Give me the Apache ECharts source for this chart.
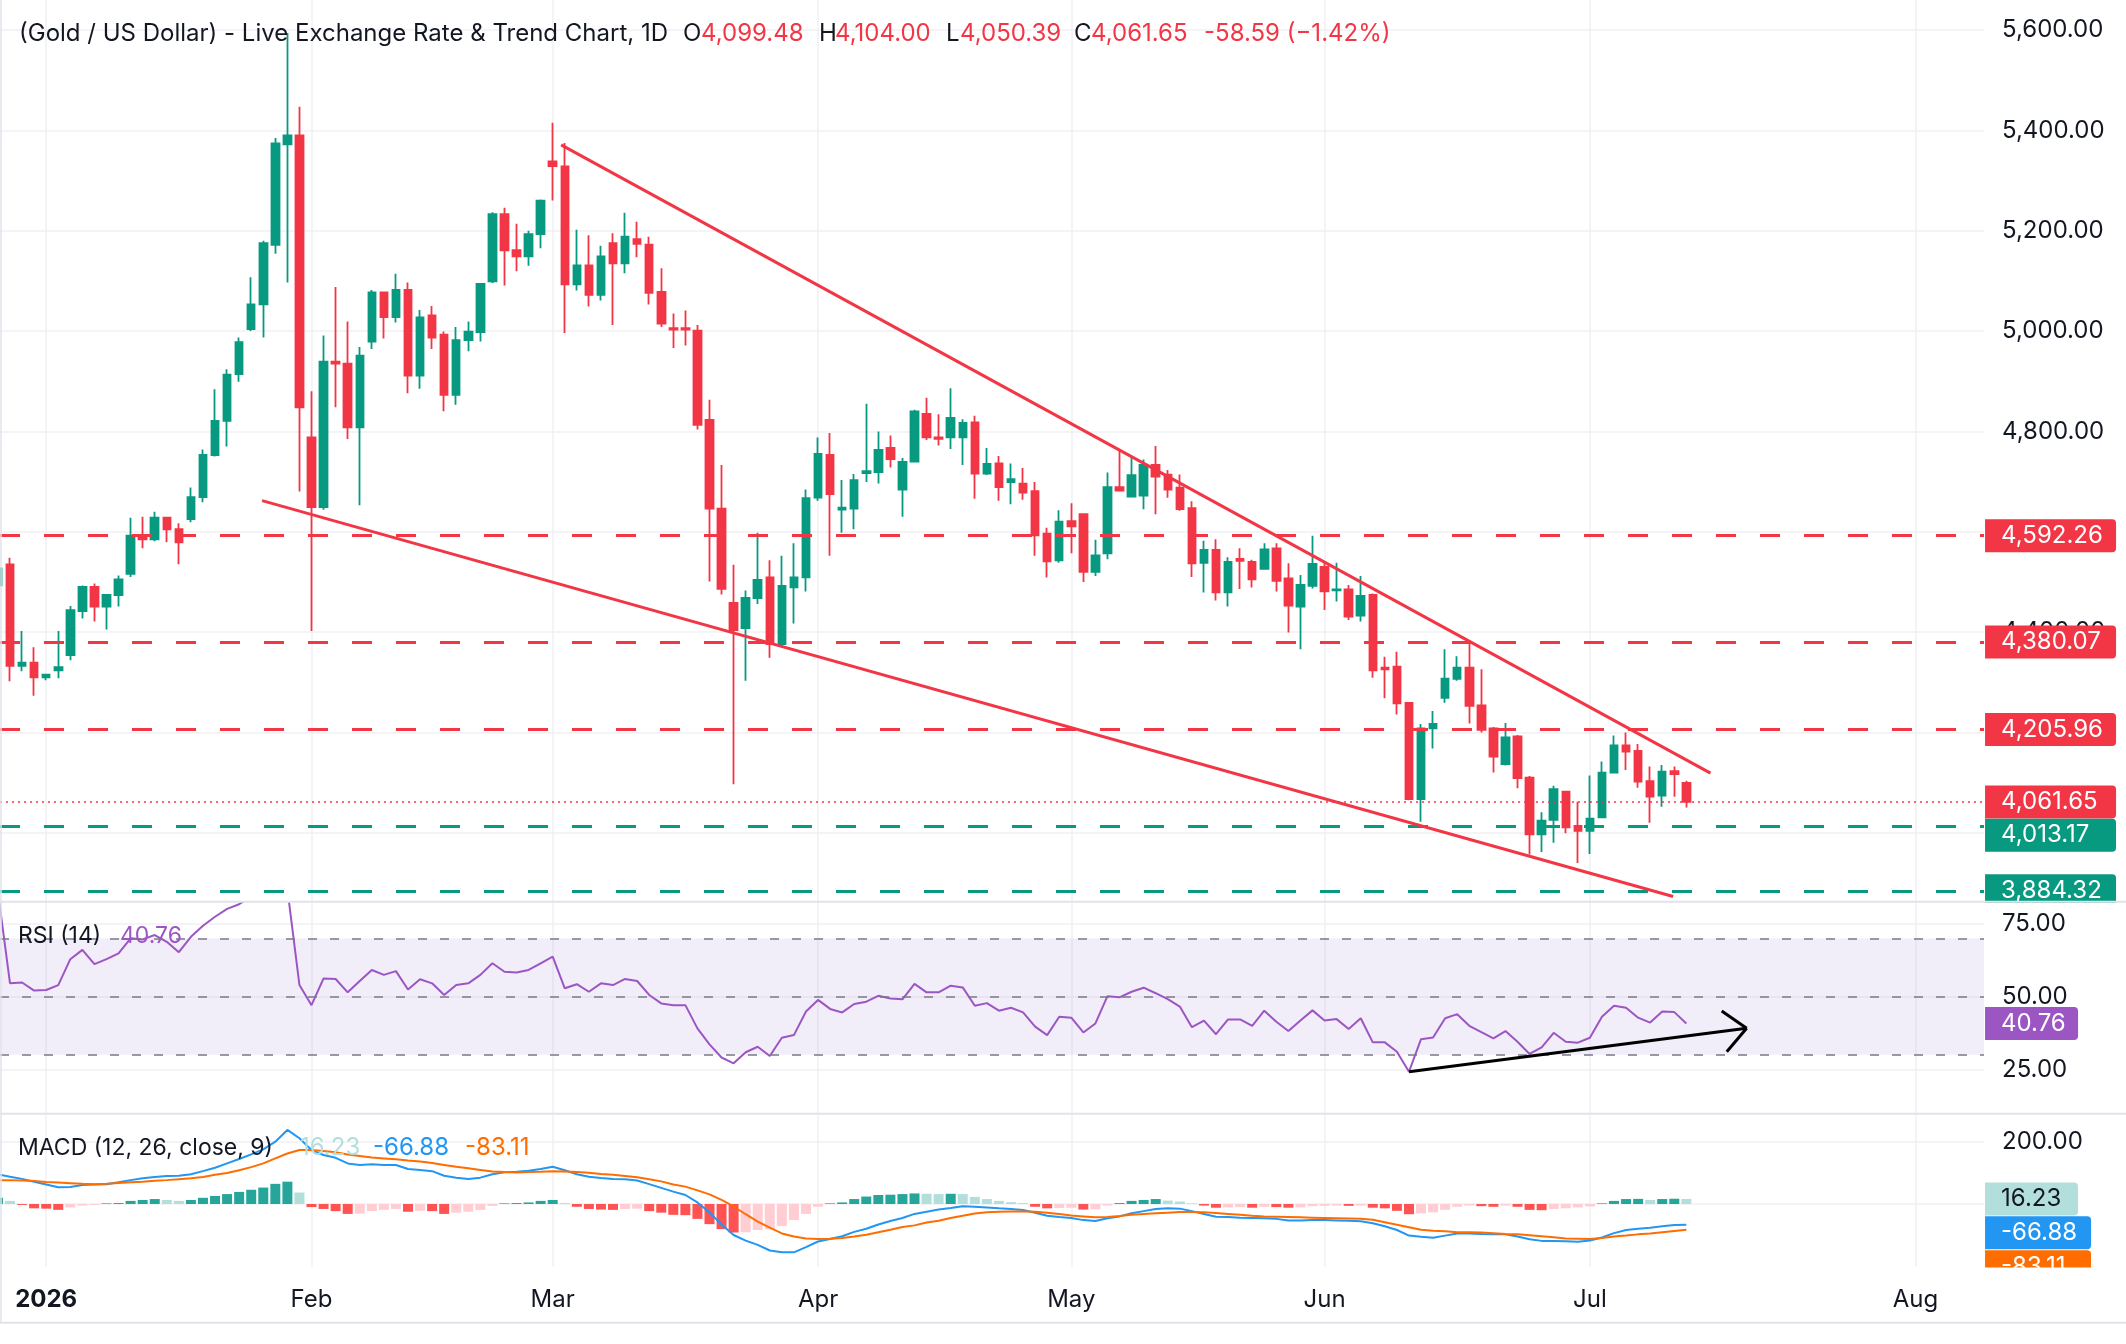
<!DOCTYPE html>
<html><head><meta charset="utf-8">
<script src="https://cdn.jsdelivr.net/npm/echarts@6/dist/echarts.min.js"></script>
<style>html,body{margin:0;padding:0;background:#fff}#c{width:2126px;height:1344px}</style>
</head><body><div id="c"></div>
<script>
// ---------- DATA (first bar = Dec 26 2025 at bar index -1, then daily bars) ----------
const firstBarIndex = -1;
const opens = [4493,4535,4333,4339,4310,4324,4354,4442,4490,4451,4474,4516,4592,4585,4628,4605,4625,4669,4753,4821,4914,
5004,5053,5172,5372,5390,4788,4649,4939,4935,4808,4979,5077,5028,5082,4911,5031,4993,4873,4982,4998,
5099,5233,5161,5149,5193,5338,5328,5093,5131,5072,5175,5135,5183,5172,5078,5006,5006,5001,4823,4646,
4458,4408,4468,4509,4376,4489,4509,4668,4753,4644,4646,4717,4719,4767,4684,4740,4835,4788,4788,4788,
4818,4716,4736,4699,4696,4681,4596,4543,4621,4635,4520,4557,4689,4670,4672,4733,4714,4688,4647,4538,
4564,4479,4546,4540,4526,4567,4507,4451,4492,4530,4483,4485,4433,4474,4329,4331,4259,4067,4208,4269,
4307,4329,4254,4208,4137,4192,4110,3997,4026,4082,4014,4004,4031,4120,4174,4163,4103,4074,4123,4099.48];
const highs = [4535,4548,4402,4370,4316,4402,4452,4493,4497,4476,4513,4628,4630,4640,4630,4617,4688,4764,4884,4924,4987,
5107,5180,5385,5594,5447,4880,4991,5088,5019,4968,5082,5079,5114,5097,5042,5050,4999,5008,5019,5094,
5237,5246,5214,5200,5262,5415,5375,5202,5191,5170,5195,5236,5218,5188,5125,5035,5041,5012,4863,4733,
4534,4483,4598,4543,4552,4577,4684,4788,4797,4703,4715,4855,4800,4792,4747,4843,4867,4834,4886,4824,
4831,4767,4751,4736,4727,4699,4608,4643,4657,4635,4584,4718,4763,4750,4744,4771,4723,4714,4661,4582,
4585,4549,4567,4544,4577,4577,4537,4514,4592,4540,4538,4494,4512,4477,4351,4361,4259,4217,4243,4366,
4352,4378,4326,4211,4219,4195,4113,4041,4094,4083,4062,4114,4142,4194,4200,4177,4132,4135,4132,4104.00];
const lows = [4490,4302,4322,4273,4304,4308,4344,4427,4421,4405,4451,4510,4567,4581,4579,4535,4619,4659,4750,4770,4899,
5000,4987,5154,5097,4680,4402,4644,4848,4785,4653,4964,4985,5017,4876,4885,4964,4840,4853,4960,4979,
5096,5091,5119,5130,5165,5260,4996,5081,5049,5061,5012,5115,5147,5053,5008,4966,4971,4804,4501,4475,
4097,4303,4456,4349,4374,4417,4481,4662,4552,4598,4605,4699,4696,4728,4630,4740,4783,4772,4765,4733,
4666,4713,4662,4655,4664,4552,4509,4538,4557,4500,4512,4545,4682,4670,4645,4635,4668,4642,4510,4479,
4463,4451,4486,4489,4526,4481,4399,4366,4487,4444,4461,4424,4421,4309,4268,4236,4065,4022,4168,4259,
4303,4218,4200,4120,4134,4089,3957,3962,3980,3999,3940,3958,4029,4120,4125,4090,4020,4052,4072,4050.39];
const closes = [4527,4333,4339,4310,4315,4330,4444,4490,4451,4474,4505,4592,4585,4628,4605,4579,4669,4753,4821,4913,4978,
5053,5175,5374,5390,4848,4649,4939,4935,4808,4951,5077,5028,5082,4911,5027,4987,4873,4982,4999,5094,
5233,5161,5149,5193,5260,5329,5093,5131,5072,5149,5135,5188,5174,5076,5015,5003,5003,4813,4646,4486,
4404,4468,4504,4376,4492,4509,4667,4755,4675,4648,4703,4721,4763,4745,4739,4840,4788,4785,4827,4817,
4716,4735,4689,4705,4678,4593,4541,4620,4611,4520,4553,4689,4682,4713,4733,4710,4684,4645,4537,4564,
4479,4540,4542,4505,4565,4502,4453,4494,4536,4481,4485,4431,4472,4324,4326,4258,4067,4208,4217,4307,
4329,4253,4205,4152,4190,4109,3997,4024,4087,4011,4004,4028,4120,4174,4162,4102,4072,4122,4117,4061.65];
const rsi = [86,54.6,54.9,52.1,52.3,54.0,62.9,66.1,61.2,62.9,64.9,70.1,69.7,71.2,68.9,65.3,70.6,74.4,77.5,80.2,81.8,
84.5,86.5,89,87,54.0,47.1,56.3,56.1,51.5,55.4,59.2,57.5,58.8,52.5,56.0,54.6,50.6,54.0,54.6,57.5,
61.5,58.6,58.3,59.2,61.5,63.8,52.9,54.3,51.7,54.6,54.0,56.1,55.4,50.6,47.7,47.1,47.1,39.1,33.6,29.1,
27.1,30.9,32.8,29.6,35.9,36.8,44.9,48.9,45.8,44.6,47.5,48.3,50.3,49.4,49.1,54.4,51.5,51.5,53.8,53.2,
46.9,47.8,45.2,46.2,44.6,39.7,36.8,43.1,42.8,37.7,40.8,50.2,49.8,51.7,53.1,51.2,49.2,46.6,39.5,41.8,
37.1,42.2,42.2,40.0,45.2,41.4,38.2,41.8,45.3,41.8,42.3,38.9,42.6,34.3,34.3,31.1,24.2,35.4,36.0,42.6,
44.0,40.0,37.8,35.7,38.2,34.5,30.3,32.6,37.6,34.5,34.2,35.9,43.1,46.9,46.2,42.8,41.1,44.9,44.7,40.76];
const macd = [96,88,81,72,63,54,55,61,63,64,70,77,83,87,90,91,96,106,117,131,145,
160,176,201,239,212,174,158,149,131,126,128,126,126,113,110,106,91,85,81,85,
96,102,104,107,113,120,109,96,88,84,81,80,76,64,52,40,29,5,-27,-66,
-100,-118,-132,-150,-156,-156,-139,-121,-113,-104,-90,-80,-66,-55,-45,-32,-25,-18,-13,-7,
-9,-11,-14,-16,-19,-28,-38,-42,-45,-52,-55,-46,-40,-30,-23,-16,-14,-15,-23,-32,
-41,-42,-44,-45,-46,-48,-53,-53,-52,-52,-53,-54,-56,-62,-72,-84,-102,-106,-109,-102,
-95,-95,-97,-98,-98,-105,-114,-119,-119,-120,-122,-118,-108,-94,-84,-80,-77,-72,-68,-66.88];
const signal = [77,77,76,74,71,69,67,65,64,65,68,70,72,75,77,80,83,87,94,100,109,
119,131,147,163,174,174,171,167,160,155,150,147,144,140,137,132,126,120,115,110,
105,103,102,103,104,106,105,103,101,97,94,90,86,80,73,63,56,44,31,13,
-8,-33,-57,-76,-95,-105,-111,-113,-112,-110,-105,-99,-91,-83,-74,-69,-60,-54,-45,-38,
-31,-27,-25,-24,-24,-25,-28,-32,-37,-40,-43,-42,-39,-35,-32,-30,-28,-26,-26,-27,
-29,-32,-35,-38,-40,-41,-42,-43,-44,-45,-46,-47,-48,-51,-59,-67,-75,-83,-86,-88,
-91,-91,-92,-94,-97,-98,-101,-104,-107,-111,-112,-113,-110,-105,-102,-98,-95,-91,-87,-83.11];
const hist = [20,10,-3,-14,-15,-19,-11,-5,-3,2,3,10,13,16,13,10,13,20,26,32,39,
46,53,65,72,37,-10,-16,-23,-32,-31,-23,-19,-16,-25,-22,-23,-32,-28,-25,-19,
-6,2,3,5,10,13,3,-9,-16,-18,-19,-16,-15,-23,-28,-35,-36,-48,-65,-81,
-92,-91,-84,-82,-71,-52,-32,-9,2,5,16,24,29,30,32,34,33,32,33,32,
23,16,10,6,3,-9,-14,-13,-12,-18,-17,-5,3,10,13,16,11,8,2,-5,
-12,-11,-10,-12,-9,-10,-12,-11,-7,-6,-5,-6,-5,-12,-14,-22,-33,-30,-27,-19,
-9,-5,-7,-9,-5,-9,-19,-20,-16,-14,-11,-8,2,10,16,16.5,13,16,17,16.23];

const monthTicks = [3,25,45,67,88,109,131,158];
const monthLabels = ['2026','Feb','Mar','Apr','May','Jun','Jul','Aug'];
const priceTicks = [4000,4200,4400,4600,4800,5000,5200,5400,5600];
const rsiTicks = [25,50,75];
const rsiBands = [70,50,30];
const macdTicks = [0,200];
const macdLabelTicks = [200];
const resistLevels = [4592.26,4380.07,4205.96];
const supportLevels = [4013.17,3884.32];
const lastPrice = 4061.65;
const upperTrend = [[45.7,5371],[141.0,4119]];
const lowerTrend = [[20.9,4662],[137.9,3873]];
const rsiArrow = [[116,24.2],[144.0,39.13]];
const rsiArrowArm1 = [[141.93,45.08],[144.0,39.13]];
const rsiArrowArm2 = [[142.35,31.09],[144.0,39.13]];
const headerTitle = '(Gold / US Dollar) - Live Exchange Rate & Trend Chart, 1D';
const headerKeys = ['O','H','L','C'];
const headerVals = ['4,099.48','4,104.00','4,050.39','4,061.65'];
const headerChange = '-58.59 (\u22121.42%)';

// ---------- STYLE ----------
const F = 'Inter, "Noto Sans", Roboto, sans-serif';
const RED = '#f23645', GREEN = '#089981', TXT = '#131722', GRID = '#f0f1f4', SEP = '#e0e3eb';
const PURPLE = '#9c56c3', BLUE = '#2196f3', ORANGE = '#ff6d00';
const X_MIN = -0.83, X_MAX = 163.68;
const FS = 24;
const fmt = v => Number(v).toLocaleString('en-US',{minimumFractionDigits:2,maximumFractionDigits:2});
const last = a => a[a.length-1];
const xs = i => i + firstBarIndex;

function boxPoint(value, text, bg, fg, w, dy){
  return {coord:[X_MAX, value], symbol:'rect', symbolSize:0.1, itemStyle:{color:'rgba(0,0,0,0)'},
    label:{show:true, position:'right', distance:1, color:fg, backgroundColor:bg, fontFamily:F, fontSize:FS,
      lineHeight:23, padding:[5,10,5,16], width:w, borderRadius:[0,4,4,0], offset:[0,dy||0], formatter:text}};
}

// header rich text (fragment widths set to match spacing)
const hdrKeyW = [18,16,14,17], hdrValW = [118,111,114,113];
const hdrRich = {t:{fontFamily:F, fontSize:FS, color:TXT, fontWeight:'normal', lineHeight:28, width:664},
                 c:{fontFamily:F, fontSize:FS, color:RED, fontWeight:'normal', lineHeight:28}};
let hdrText = '{t|'+headerTitle+'}';
headerKeys.forEach((k,i)=>{
  hdrRich['k'+i] = {fontFamily:F, fontSize:FS, color:TXT, fontWeight:'normal', lineHeight:28, width:hdrKeyW[i]};
  hdrRich['v'+i] = {fontFamily:F, fontSize:FS, color:RED, fontWeight:'normal', lineHeight:28, width:hdrValW[i]};
  hdrText += '{k'+i+'|'+k+'}{v'+i+'|'+headerVals[i]+'}';
});
hdrText += '{c|'+headerChange+'}';

const chart = echarts.init(document.getElementById('c'), null, {renderer:'canvas'});

const xAxisBase = gi => ({type:'value', gridIndex:gi, min:X_MIN, max:X_MAX,
  axisLine:{show:false}, axisTick:{show:false, customValues:monthTicks},
  axisLabel:{show:false}, splitLine:{show:true, lineStyle:{color:GRID, width:1.5}}});

const xAxes = [xAxisBase(0), xAxisBase(1), xAxisBase(2)];
xAxes[2].axisLabel = {show:true, customValues:monthTicks, margin:21, color:TXT, fontFamily:F, fontSize:FS,
  formatter: v => { const k = monthTicks.indexOf(Math.round(v)); if (k < 0) return ''; return k === 0 ? '{b|' + monthLabels[k] + '}' : monthLabels[k]; },
  rich:{b:{fontWeight:'bold', fontFamily:F, fontSize:FS, color:TXT}}};

const yLabel = (vals) => ({customValues:vals, formatter:v=>fmt(v), color:TXT, fontFamily:F, fontSize:FS, margin:18});

const trendStyle = {color:RED, width:3, type:'solid'};
const dashRed = {color:RED, width:3, type:[20,24]};
const dashGreen = {color:GREEN, width:3, type:[20,24]};
const blackLine = {color:'#000', width:3, type:'solid'};

const option = {
  animation:false,
  backgroundColor:'#fff',
  title:[
    {left:19, top:20, padding:0, text:hdrText, textStyle:{rich:hdrRich}},
    {left:18, top:922, padding:0,
     text:'{a|RSI (14)}{b|'+last(rsi).toFixed(2)+'}',
     textStyle:{rich:{
       a:{fontFamily:F, fontSize:23, color:TXT, fontWeight:'normal', lineHeight:28, width:102},
       b:{fontFamily:F, fontSize:23, color:PURPLE, fontWeight:'normal', lineHeight:28}}}},
    {left:18, top:1134, padding:0,
     text:'{a|MACD (12, 26, close, 9)}{h|'+last(hist).toFixed(2)+'}{m|'+last(macd).toFixed(2)+'}{s|'+last(signal).toFixed(2)+'}',
     textStyle:{rich:{
       a:{fontFamily:F, fontSize:23, color:TXT, fontWeight:'normal', lineHeight:28, width:282},
       h:{fontFamily:F, fontSize:FS, color:'#b2dfdb', fontWeight:'normal', lineHeight:28, width:73},
       m:{fontFamily:F, fontSize:FS, color:BLUE, fontWeight:'normal', lineHeight:28, width:92},
       s:{fontFamily:F, fontSize:FS, color:ORANGE, fontWeight:'normal', lineHeight:28}}}}
  ],
  grid:[
    {left:0, top:0, width:1984, height:901.5},
    {left:0, top:902, width:1984, height:211},
    {left:0, top:1115, width:1984, height:151.7}
  ],
  xAxis: xAxes,
  yAxis:[
    {type:'value', gridIndex:0, position:'right', min:3863.1, max:5659.8,
     axisLine:{show:false}, axisTick:{show:false, customValues:priceTicks}, axisLabel:yLabel(priceTicks),
     splitLine:{show:true, lineStyle:{color:GRID, width:1.5}}},
    {type:'value', gridIndex:1, position:'right', min:10.01, max:82.57,
     axisLine:{show:false}, axisTick:{show:false, customValues:rsiTicks}, axisLabel:yLabel(rsiTicks),
     splitLine:{show:true, lineStyle:{color:GRID, width:1.5}}},
    {type:'value', gridIndex:2, position:'right', min:-202.3, max:287.1,
     axisLine:{show:false}, axisTick:{show:false, customValues:macdTicks}, axisLabel:yLabel(macdLabelTicks),
     splitLine:{show:true, lineStyle:{color:GRID, width:1.5}}}
  ],
  series:[
    {type:'candlestick', xAxisIndex:0, yAxisIndex:0, barWidth:8,
     data: opens.map((o,i)=>[xs(i), o, closes[i], lows[i], highs[i]]),
     encode:{x:0, y:[1,2,3,4]},
     itemStyle:{color:GREEN, color0:RED, borderColor:GREEN, borderColor0:RED, borderWidth:1.8},
     markLine:{silent:true, symbol:['none','none'], label:{show:false}, data:[
       ...resistLevels.map(v=>({yAxis:v, lineStyle:dashRed})),
       ...supportLevels.map(v=>({yAxis:v, lineStyle:dashGreen})),
       {yAxis:lastPrice, lineStyle:{color:RED, width:1.5, type:[2,4]}},
       [{coord:upperTrend[0], lineStyle:trendStyle},{coord:upperTrend[1], lineStyle:trendStyle}],
       [{coord:lowerTrend[0], lineStyle:trendStyle},{coord:lowerTrend[1], lineStyle:trendStyle}]
     ]},
     markPoint:{silent:true, data:[
       ...resistLevels.map(v=>boxPoint(v, fmt(v), RED, '#fff', 105, 0)),
       boxPoint(lastPrice, fmt(lastPrice), RED, '#fff', 105, 0),
       boxPoint(supportLevels[0], fmt(supportLevels[0]), GREEN, '#fff', 105, 9),
       boxPoint(supportLevels[1], fmt(supportLevels[1]), GREEN, '#fff', 105, 0)
     ]}},
    {type:'line', xAxisIndex:1, yAxisIndex:1, showSymbol:false, symbol:'none',
     data: rsi.map((v,i)=>[xs(i),v]), lineStyle:{color:PURPLE, width:2},
     markArea:{silent:true, itemStyle:{color:'rgba(126,87,194,0.1)'}, data:[[{yAxis:rsiBands[2]},{yAxis:rsiBands[0]}]]},
     markLine:{silent:true, symbol:['none','none'], label:{show:false}, data:[
       ...rsiBands.map(v=>({yAxis:v, lineStyle:{color:'#787b86', width:1.5, type:[9,13]}})),
       [{coord:rsiArrow[0], lineStyle:blackLine},{coord:rsiArrow[1], lineStyle:blackLine}],
       [{coord:rsiArrowArm1[0], lineStyle:blackLine},{coord:rsiArrowArm1[1], lineStyle:blackLine}],
       [{coord:rsiArrowArm2[0], lineStyle:blackLine},{coord:rsiArrowArm2[1], lineStyle:blackLine}]
     ]},
     markPoint:{silent:true, data:[boxPoint(last(rsi), last(rsi).toFixed(2), PURPLE, '#fff', 67, 0)]}},
    {type:'bar', xAxisIndex:2, yAxisIndex:2, barWidth:10,
     data: hist.map((v,i)=>[xs(i),v]),
     itemStyle:{color: p => { const i = p.dataIndex, v = hist[i], pr = i>0 ? hist[i-1] : -Infinity;
        return v >= 0 ? (v > pr ? '#26a69a' : '#b2dfdb') : (v < pr ? '#ff5252' : '#ffcdd2'); }},
     markPoint:{silent:true, data:[boxPoint(last(hist), last(hist).toFixed(2), '#b2dfdb', TXT, 67, 0)]}},
    {type:'line', xAxisIndex:2, yAxisIndex:2, showSymbol:false, symbol:'none',
     data: macd.map((v,i)=>[xs(i),v]), lineStyle:{color:BLUE, width:2},
     markPoint:{silent:true, data:[boxPoint(last(macd), last(macd).toFixed(2), BLUE, '#fff', 80, 8)]}},
    {type:'line', xAxisIndex:2, yAxisIndex:2, showSymbol:false, symbol:'none',
     data: signal.map((v,i)=>[xs(i),v]), lineStyle:{color:ORANGE, width:2},
     markPoint:{silent:true, data:[boxPoint(last(signal), last(signal).toFixed(2), ORANGE, '#fff', 80, 37)]}}
  ],
  graphic:[
    {type:'rect', silent:true, z:100, shape:{x:1985, y:902.7, width:141, height:10}, style:{fill:'#fff'}},
    {type:'rect', silent:true, z:100, shape:{x:1985, y:1267.5, width:141, height:54}, style:{fill:'#fff'}},
    {type:'line', silent:true, z:101, shape:{x1:0, y1:901.7, x2:2126, y2:901.7}, style:{stroke:SEP, lineWidth:2}},
    {type:'line', silent:true, z:101, shape:{x1:0, y1:1113.7, x2:2126, y2:1113.7}, style:{stroke:SEP, lineWidth:2}},
    {type:'line', silent:true, z:101, shape:{x1:0, y1:1322.7, x2:2126, y2:1322.7}, style:{stroke:SEP, lineWidth:2}},
    {type:'line', silent:true, z:101, shape:{x1:1, y1:0, x2:1, y2:1322.7}, style:{stroke:SEP, lineWidth:1.5}}
  ]
};
chart.setOption(option);
</script>
</body></html>
